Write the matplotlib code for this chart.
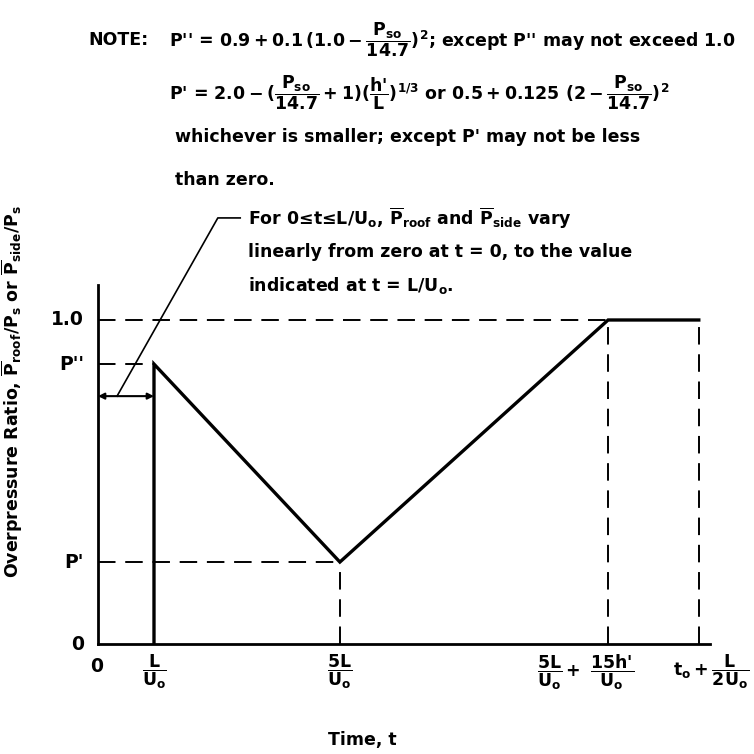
import matplotlib.pyplot as plt

plt.rcParams['font.family'] = 'DejaVu Sans'
plt.rcParams['font.weight'] = 'bold'
plt.rcParams['mathtext.fontset'] = 'custom'
plt.rcParams['mathtext.rm'] = 'DejaVu Sans:bold'
plt.rcParams['mathtext.it'] = 'DejaVu Sans:bold'
plt.rcParams['mathtext.bf'] = 'DejaVu Sans:bold'
plt.rcParams['mathtext.sf'] = 'DejaVu Sans:bold'

# time axis positions (in units of L/U0, schematic spacing)
t_L = 1.0
t_5L = 4.32
t_rise = 9.11
t_end = 10.73
t_max = 10.93

# overpressure ratio levels
p_dd = 0.864   # P''
p_d = 0.253    # P'
p_one = 1.0
p_max = 1.108
p_arrow = 0.765

curve_t = [t_L, t_L, t_5L, t_rise, t_end]
curve_p = [0.0, p_dd, p_d, p_one, p_one]

x_labels = [r'$\dfrac{L}{U_o}$', r'$\dfrac{5L}{U_o}$',
            r'$\dfrac{5L}{U_o}+\ \dfrac{15\text{h}{\text{\'}}}{U_o}$',
            r'$t_o+\dfrac{L}{2U_o}$']
x_label_pos = [t_L, t_5L, t_rise - 0.4, t_end + 0.22]
y_labels = ['1.0', "P''", "P'", '0']
y_label_pos = [p_one, p_dd, p_d, 0.0]

W = H = 754
fig = plt.figure(figsize=(7.54, 7.54), dpi=100)


def px(x, y):
    return x / W, 1 - y / H


ax = fig.add_axes([98 / W, 110 / H, 612 / W, 359 / H])
ax.set_xlim(0, t_max)
ax.set_ylim(0, p_max)
for s in ['top', 'right']:
    ax.spines[s].set_visible(False)
for s in ['left', 'bottom']:
    ax.spines[s].set_linewidth(2.0)
ax.set_xticks([])
ax.set_yticks([])

dash = dict(color='black', lw=1.4, linestyle=(0, (9, 5)))
ax.plot([0, t_rise], [p_one, p_one], **dash)
ax.plot([0, t_L], [p_dd, p_dd], **dash)
ax.plot([0, t_5L], [p_d, p_d], **dash)
ax.plot([t_5L, t_5L], [0, p_d], **dash)
ax.plot([t_rise, t_rise], [0, p_one], **dash)
ax.plot([t_end, t_end], [0, p_one], **dash)

ax.plot(curve_t, curve_p, color='black', lw=2.4, solid_joinstyle='miter')

# double arrow over 0 <= t <= L/U0 and its leader line
ax.annotate('', xy=(0, p_arrow), xytext=(t_L, p_arrow),
            arrowprops=dict(arrowstyle='<|-|>', color='black', lw=1.5,
                            mutation_scale=9, shrinkA=0, shrinkB=0))
ax.plot([0.34, 2.14, 2.54], [p_arrow, 1.315, 1.315], color='black', lw=1.2,
        clip_on=False)

fs = 12.5
for lab, y in zip(y_labels, y_label_pos):
    ax.text(-0.25, y, lab, ha='right', va='center', fontsize=fs + 1)
ax.text(-0.02, -0.07, '0', ha='center', va='center', fontsize=fs + 1)
for lab, x in zip(x_labels, x_label_pos):
    ax.text(x, -0.087, lab, ha='center', va='center', fontsize=fs)

ann = [r'For 0≤t≤L/U$_o$, $\overline{P}_{roof}$ and $\overline{P}_{side}$ vary',
       'linearly from zero at t = 0, to the value',
       r'indicated at t = L/U$_o$.']
for line, y in zip(ann, [218, 252, 285]):
    fig.text(*px(248, y), line, ha='left', va='center', fontsize=fs)

fig.text(*px(88, 40), 'NOTE:', ha='left', va='center', fontsize=fs)
fig.text(*px(169, 40),
         r"P'' = $0.9 + 0.1\,(1.0 - \dfrac{P_{so}}{14.7})^2$;"
         r" except P'' may not exceed 1.0",
         ha='left', va='center', fontsize=fs)
fig.text(*px(169, 93),
         r"P' = $2.0 - (\dfrac{P_{so}}{14.7} + 1)(\dfrac{\text{h'}}{L})^{1/3}$"
         r" or $0.5 + 0.125\ (2 - \dfrac{P_{so}}{14.7})^2$",
         ha='left', va='center', fontsize=fs)
fig.text(*px(175, 137), "whichever is smaller; except P' may not be less",
         ha='left', va='center', fontsize=fs)
fig.text(*px(175, 180), 'than zero.', ha='left', va='center', fontsize=fs)

fig.text(*px(12, 392),
         r'Overpressure Ratio, $\overline{P}_{roof}/P_s$ or $\overline{P}_{side}/P_s$',
         rotation=90, ha='center', va='center', fontsize=12.5)
fig.text(*px(362, 740), 'Time, t', ha='center', va='center', fontsize=12.5)

fig.savefig('out.png', dpi=100, facecolor='white')
